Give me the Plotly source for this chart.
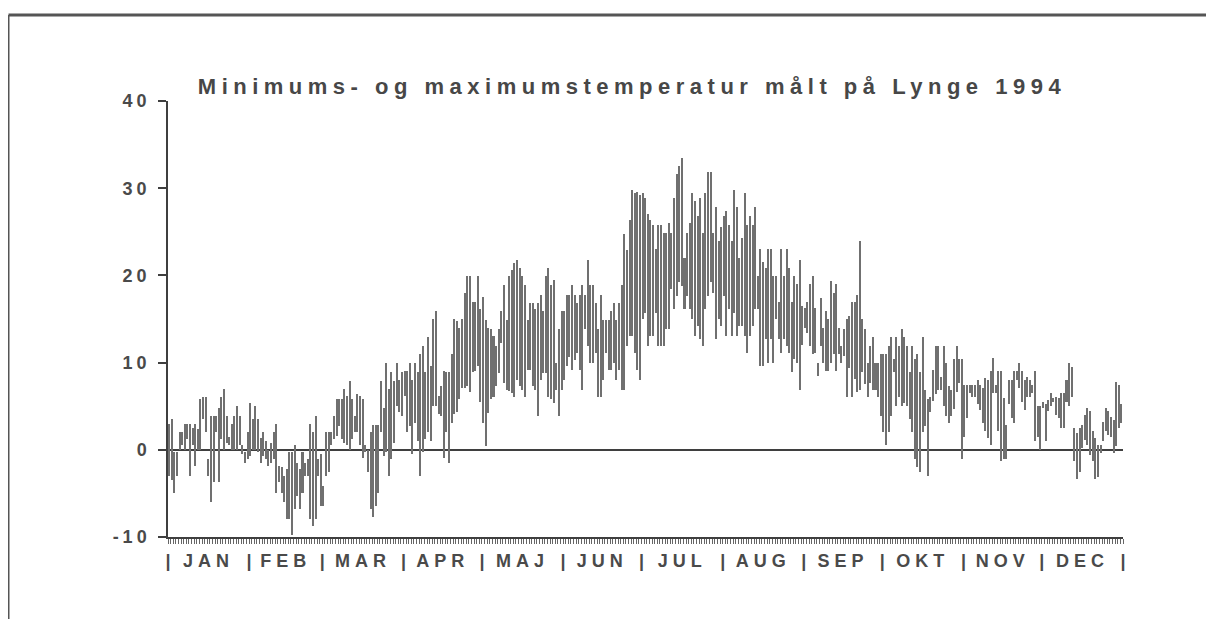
import plotly.graph_objects as go

# daily (max, min) temperature, deg C
JAN = [(3, -3), (3.5, -3.5), (-0.3, -4.9), (-0.3, -3), (2, 0), (2, 0.5), (3, 0), (3, 1.2), (3, -3), (2.5, 0.5),
       (3, -1.8), (2.4, 0), (5.8, 0), (6, 3.5), (6, 2), (-1, -3), (3.9, -6), (3.9, -3.7), (3.9, 2), (4.8, -3.7),
       (6, 1.2), (7, 0), (3.9, 0.8), (1.5, 0.5), (3, 0), (3.9, 0), (5, 0), (3.9, 0.5), (0.5, -0.5), (-0.3, -1.5),
       (2, -1)]
FEB = [(5.4, -0.7), (3.5, 0), (5, 0), (3.5, -0.3), (1.4, -1.5), (2, -0.7), (1, -1), (0, -1.8), (0.8, -1.5), (2, -1),
       (3, -4.9), (-1.8, -3.7), (-2, -4.9), (-3, -6), (-2.2, -7.9), (-0.3, -7.9), (-0.3, -9.8), (0.5, -6.8), (-1.5, -5.3), (-2.2, -6.8),
       (-0.3, -4.9), (-1.5, -3), (-1, -3), (3, -7.9), (2, -8.7), (3.9, -7.9), (-1, -3), (-0.5, -6.4)]
MAR = [(-4.1, -6.4), (2, -3), (2, -2.6), (2, 0.5), (3.9, 1.2), (5.8, 1.6), (5.8, 2.7), (5.8, 1.2), (7, 0.8), (6.2, 0.5),
       (7.9, 0), (5.8, 1.2), (3.9, 2), (6.4, 2), (6.2, 0.5), (5.8, -0.9), (0.5, -0.3), (0, -2.6), (2, -6.8), (2.9, -7.7),
       (2.9, -6.4), (2.9, -4.9), (7.9, 2), (4.8, -0.7), (10, -0.3), (7, -3), (8.9, -1.1), (7.9, 0.8), (10, 5), (8, 4.3),
       (8.9, 3.9)]
APR = [(9, 6.2), (9, 2), (10, 2.7), (8, -0.5), (10, 3.1), (8.9, 1), (11, -3), (11.9, -0.3), (8.9, 1.2), (12.9, 2),
       (9.6, 1), (15, 5), (15.9, 5), (6.2, 4.1), (7.3, 3.9), (9, -0.9), (8.9, 2), (8.9, -1.5), (11, 3.1), (15, 4.1),
       (14.8, 4.3), (14, 5.8), (15, 7.1), (18, 7.1), (19.9, 7.3), (19.9, 6.6), (17, 8.9), (17, 9), (19.9, 9.6), (16.1, 5.5)]
MAJ = [(17.5, 3.1), (14.9, 0.4), (14, 4.2), (13.8, 5.8), (13, 6.1), (11.9, 7.3), (13.8, 8.8), (15.9, 12.3), (18.9, 7.7), (14.9, 6.9),
       (19.9, 6.7), (20.6, 6.5), (21.4, 6.1), (21.8, 8), (20.8, 7.3), (19.9, 6.9), (18.9, 6.1), (14.9, 9.2), (16.8, 9.2), (16.8, 7.3),
       (16.1, 6.9), (16.8, 3.9), (17.8, 8), (15.9, 8.8), (19.9, 8.8), (20.8, 6.1), (18.9, 5.8), (19.5, 5.4), (10, 6.9), (13.8, 3.9),
       (15.9, 6.9)]
JUN = [(15.9, 8), (17.8, 9.6), (17.8, 10.7), (18.9, 9.2), (17.8, 10.3), (16.8, 11.1), (17.8, 9.2), (18.9, 6.9), (17.8, 13.8), (21.8, 11.9),
       (18.9, 10), (18.9, 10), (16.8, 11.1), (13.8, 6.1), (17.8, 6.1), (14.9, 8), (14.9, 11.1), (14.9, 9.2), (15.9, 9.2), (16.8, 10),
       (14.9, 8), (16.8, 9.2), (18.9, 6.9), (24.8, 6.9), (22.9, 11.9), (26.4, 13), (29.8, 13), (29.5, 11.1), (29.6, 9.2), (29.2, 8)]
JUL = [(29.5, 15), (28.9, 15.7), (27, 11.9), (26.4, 13), (25.8, 13), (23, 15.7), (25.8, 11.9), (25.8, 11.9), (24.9, 11.9), (24.9, 13.8),
       (26, 13.8), (24.9, 18.4), (28.9, 16.1), (31.6, 17.6), (32.5, 19.2), (33.5, 18.8), (22, 16.1), (24.9, 17.6), (26, 16.1), (29.5, 15),
       (28.5, 13), (26.8, 14.2), (28.9, 12.7), (24.9, 11.9), (29.5, 16.1), (31.9, 17.6), (31.9, 19.2), (24.9, 18), (27.9, 12.7), (23.9, 15),
       (25.6, 14.2)]
AUG = [(26.8, 17.6), (27.4, 13), (25.8, 16.1), (23.9, 13), (29.8, 15.7), (27.9, 13), (22, 14.2), (24.3, 14.2), (29.5, 13), (25.8, 11.1),
       (26.8, 13), (25.8, 14.2), (27.9, 16.1), (19.9, 16.1), (23, 9.6), (21.5, 9.6), (20.9, 12.7), (23, 10), (23, 12.7), (19.9, 10),
       (19.9, 15), (16.9, 12.7), (23, 11.1), (19.9, 12.7), (23, 11.9), (20.9, 11.1), (16.9, 8.9), (19.9, 10.4), (19, 10), (21.8, 6.9),
       (16.5, 12)]
SEP = [(16.3, 14), (16.9, 13.4), (19, 11.9), (19.9, 11), (16.3, 11.1), (10, 8.5), (17.4, 11.9), (14, 10), (15.9, 9), (15, 9),
       (19.4, 10), (18, 11), (19, 9), (14, 11), (11.9, 10), (13.8, 10.8), (15, 6), (15.3, 9.4), (16.9, 6), (16.9, 8.1),
       (17.8, 6.6), (23.9, 6.9), (15, 8.9), (13.8, 7.5), (10, 6), (11.9, 7.7), (12.9, 6.9), (10, 6.9), (10, 6), (11, 3.9)]
OKT = [(11, 2), (11, 0.5), (11.9, 2), (12.9, 3.9), (10.4, 8.9), (12.9, 5), (11.9, 6), (13.8, 5), (12.9, 5.4), (11.9, 5),
       (8.9, 3.5), (11.9, 2), (10.4, -1.1), (11, -2), (8.9, -2.6), (12.9, 2), (6.9, 2.7), (5.8, -3), (6, 4.3), (9.2, 5.6),
       (11.9, 6.4), (11.9, 6.9), (8.3, 6.9), (11.9, 5), (10, 3.9), (7.3, 3.1), (6.9, 3.9), (10.4, 4.7), (11.9, 6.6), (10.4, 7.7),
       (10.4, -1.1)]
NOV = [(7.4, 1.5), (7.4, 3.6), (7.4, 6.5), (7.4, 6.1), (7.4, 6.1), (8, 5.2), (7.4, 4.6), (7.1, 3.1), (8.2, 2.1), (8, 1.3),
       (9, 0.6), (10.5, 6.5), (7.4, 6.5), (9, 2.1), (9, -1.3), (5.9, -1), (2.9, -1), (8, 5.2), (8, 3.6), (9, 3.1),
       (9, 8), (9.9, 7.1), (9, 5.5), (8, 4.6), (8.4, 6.1), (8, 6.1), (7.4, 6.5), (9, 1), (5, 1.5), (5, 0)]
DEC = [(5.5, 4.8), (5.3, 1), (5.7, 4.4), (6.5, 5), (5.9, 5.5), (6.1, 4), (5.9, 3.6), (6.5, 2.5), (6.5, 2.5), (8, 5.5),
       (9.9, 5), (9.5, 6.1), (2.5, -1.3), (1.9, -3.4), (2.5, -2.5), (2.9, 0.2), (4, 1.1), (4.8, 0.6), (4.4, -0.6), (2.1, -1.3),
       (1.3, -3.4), (0.6, -3.1), (0.6, -0.4), (3.2, 1), (4.8, 2.1), (4.4, 1.7), (3.8, 1.5), (3.4, -0.4), (7.8, 0.4), (7.4, 2.5),
       (5.3, 3.1)]

MONTHS = ["JAN", "FEB", "MAR", "APR", "MAJ", "JUN", "JUL", "AUG", "SEP", "OKT", "NOV", "DEC"]
Y_TICKS = [-10, 0, 10, 20, 30, 40]
TITLE = "Minimums- og maximumstemperatur målt på Lynge 1994"

# the page body has an 8px margin, so the figure is drawn 8px smaller
OFF = 8
W, H = 1214 - OFF, 619 - OFF
L, R, T, B = 168 - OFF, 91, 101 - OFF, 82
INK = "#3f3f3f"
FONT = "Liberation Sans"

months = [JAN, FEB, MAR, APR, MAJ, JUN, JUL, AUG, SEP, OKT, NOV, DEC]
tmax = [hi for m in months for hi, lo in m]
tmin = [lo for m in months for hi, lo in m]
days = list(range(1, len(tmax) + 1))

# month separators "|" at boundaries, month names at month centres
tickvals, ticktext = [0.5], ["|"]
start = 0.5
for name, m in zip(MONTHS, months):
    tickvals += [start + len(m) / 2, start + len(m)]
    ticktext += [name, "|"]
    start += len(m)


def spaced(text, px):
    return "<span style='letter-spacing:%gpx'><b>%s</b></span>" % (px, text)


fig = go.Figure(
    go.Bar(
        x=days,
        y=[hi - lo for hi, lo in zip(tmax, tmin)],
        base=tmin,
        width=0.58,
        marker=dict(color="#707070", line=dict(width=0)),
        hoverinfo="skip",
    )
)


def px_to_paper(px, py):
    # window pixel -> paper coordinates of the plot area
    return (px - OFF - L) / (W - L - R), (H - B - (py - OFF)) / (H - T - B)


x0, y0 = px_to_paper(OFF + 0.5, 15)
x1, y1 = px_to_paper(1214, 619)
fig.add_shape(type="line", xref="paper", yref="paper", x0=x0, x1=x1, y0=y0, y1=y0,
              line=dict(color="#555", width=3))
fig.add_shape(type="line", xref="paper", yref="paper", x0=x0, x1=x0, y0=y0, y1=y1,
              line=dict(color="#555", width=2))

fig.update_layout(
    width=W,
    height=H,
    margin=dict(l=L, r=R, t=T, b=B),
    paper_bgcolor="white",
    plot_bgcolor="white",
    showlegend=False,
    bargap=0,
    font=dict(family=FONT, color=INK),
    title=dict(
        text=spaced(TITLE, 5.5),
        x=(632 - OFF) / W,
        xanchor="center",
        y=1 - (86 - OFF) / H,
        yanchor="middle",
        font=dict(size=22, color="#474747"),
    ),
    xaxis=dict(
        range=[0.5, len(days) + 0.5],
        showgrid=False,
        zeroline=False,
        showline=True,
        linecolor=INK,
        linewidth=2,
        tickmode="array",
        tickvals=tickvals,
        ticktext=[spaced(t, 5) if t != "|" else "<b>|</b>" for t in ticktext],
        tickangle=0,
        ticks="",
        ticklabelstandoff=6,
        tickfont=dict(size=18, color="#4a4a4a"),
        minor=dict(ticks="outside", tick0=0.5, dtick=1, ticklen=5, tickwidth=1, tickcolor="#666"),
    ),
    yaxis=dict(
        range=[Y_TICKS[0], Y_TICKS[-1]],
        tickmode="array",
        tickvals=Y_TICKS,
        ticktext=[spaced(v, 4) for v in Y_TICKS],
        showgrid=False,
        showline=True,
        linecolor=INK,
        linewidth=1.5,
        ticks="outside",
        ticklen=8,
        tickwidth=1.5,
        tickcolor=INK,
        ticklabelstandoff=4,
        zeroline=True,
        zerolinecolor=INK,
        zerolinewidth=1.5,
        tickfont=dict(size=18, color="#4a4a4a"),
    ),
)

fig.write_html("out.html")
